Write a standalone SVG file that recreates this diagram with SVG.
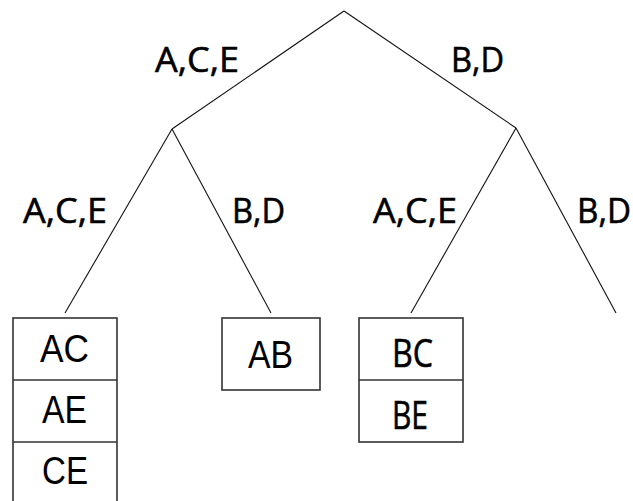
<svg xmlns="http://www.w3.org/2000/svg" width="633" height="501" viewBox="0 0 633 501">
  <style>
    .edge { stroke: #111; stroke-width: 1.1; fill: none; }
    .box { fill: #fff; stroke: #333; stroke-width: 1.6; }
    .lbl { font-family: "Open Sans", "Liberation Sans", sans-serif; font-size: 35px; fill: #000; stroke: #000; stroke-width: 0.6; }
    .cell { font-family: "Liberation Sans", Arial, sans-serif; font-size: 39px; fill: #000; }
    .cell2 { font-family: "Open Sans", "Liberation Sans", sans-serif; font-size: 38px; fill: #000; stroke: #000; stroke-width: 0.6; }
  </style>
  <rect width="633" height="501" fill="#fff"/>

  <!-- tree branches -->
  <g id="connectors">
    <line class="edge" x1="344" y1="11" x2="172" y2="129"/>
    <line class="edge" x1="344" y1="11" x2="516" y2="128"/>
    <line class="edge" x1="172" y1="129" x2="65" y2="313"/>
    <line class="edge" x1="172" y1="129" x2="271" y2="313"/>
    <line class="edge" x1="516" y1="128" x2="411" y2="313"/>
    <line class="edge" x1="516" y1="128" x2="616" y2="313"/>
  </g>

  <!-- branch labels -->
  <g id="labels">
    <text class="lbl" x="155" y="72" textLength="84" lengthAdjust="spacingAndGlyphs">A,C,E</text>
    <text class="lbl" x="451" y="72" textLength="53" lengthAdjust="spacingAndGlyphs">B,D</text>
    <text class="lbl" x="23" y="223" textLength="84" lengthAdjust="spacingAndGlyphs">A,C,E</text>
    <text class="lbl" x="232" y="223" textLength="53" lengthAdjust="spacingAndGlyphs">B,D</text>
    <text class="lbl" x="373" y="223" textLength="84" lengthAdjust="spacingAndGlyphs">A,C,E</text>
    <text class="lbl" x="577" y="223" textLength="54" lengthAdjust="spacingAndGlyphs">B,D</text>
  </g>

  <!-- leaf: A,C,E / A,C,E -->
  <g id="leaf-ace">
    <rect class="box" x="13" y="318" width="104" height="186"/>
    <line class="box" x1="13" y1="380" x2="117" y2="380"/>
    <line class="box" x1="13" y1="442" x2="117" y2="442"/>
    <text class="cell" x="40" y="362" textLength="49" lengthAdjust="spacingAndGlyphs">AC</text>
    <text class="cell" x="42" y="423" textLength="45" lengthAdjust="spacingAndGlyphs">AE</text>
    <text class="cell" x="42" y="484" textLength="46" lengthAdjust="spacingAndGlyphs">CE</text>
  </g>

  <!-- leaf: A,C,E / B,D -->
  <g id="leaf-ab">
    <rect class="box" x="222" y="318" width="98" height="72"/>
    <text class="cell" x="248" y="368" textLength="45" lengthAdjust="spacingAndGlyphs">AB</text>
  </g>

  <!-- leaf: B,D / A,C,E -->
  <g id="leaf-bce">
    <rect class="box" x="359" y="318" width="104" height="124"/>
    <line class="box" x1="359" y1="380" x2="463" y2="380"/>
    <text class="cell2" x="392" y="367" textLength="41" lengthAdjust="spacingAndGlyphs">BC</text>
    <text class="cell2" x="392" y="429" textLength="36" lengthAdjust="spacingAndGlyphs">BE</text>
  </g>
</svg>
